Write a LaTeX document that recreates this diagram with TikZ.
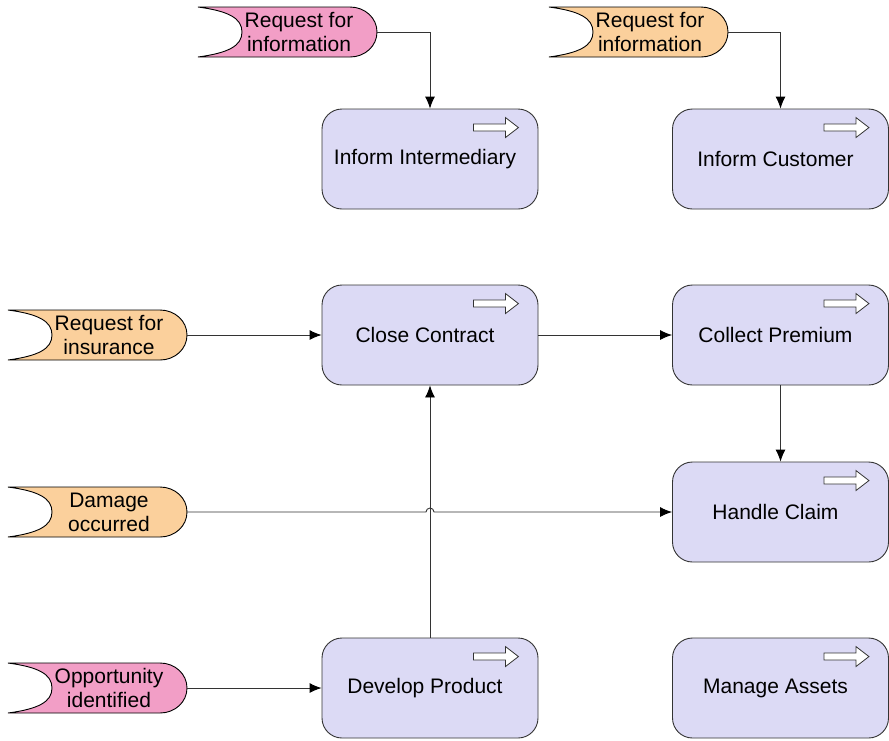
\documentclass[tikz,border=0pt]{standalone}
\usepackage{fontspec}
\setmainfont{Liberation Sans}
\usetikzlibrary{arrows.meta,calc}
\definecolor{evpink}{HTML}{F29EC6}
\definecolor{evorange}{HTML}{FBD09C}
\definecolor{boxfill}{HTML}{DCDAF5}
\definecolor{linec}{HTML}{333333}
\tikzset{
  evl/.style={draw=black, line width=0.9pt},
  evtext/.style={minimum width=179pt, minimum height=50pt, inner sep=0pt, align=center, font=\fontsize{21}{24}\selectfont, text=black},
  svcbox/.style={draw=linec, line width=0.9pt, fill=boxfill, rounded corners=20pt, minimum width=216pt, minimum height=100pt, inner sep=0pt, align=center, font=\fontsize{21}{24}\selectfont},
  icon/.style={draw=linec, line width=0.8pt, fill=white},
  conn/.style={draw=linec, line width=0.9pt, -{Latex[length=12pt,width=10pt,color=black]}},
}
% name, left, top, colour, text
\newcommand\evshape[5]{%
  \draw[evl, fill=#4] (#2,#3) -- ++(152,0)
    .. controls +(15,0) and +(0,-14) .. ++(27,25)
    .. controls +(0,14) and +(15,0) .. ++(-27,25)
    -- ++(-152,0)
    .. controls +(30,-4) and +(0,14) .. ++(44,-25)
    .. controls +(0,-14) and +(30,4) .. ++(-44,-25) -- cycle;
  \node[evtext, minimum width=0pt] at (#2+101,#3+25) {#5};
  \node[evtext] (#1) at (#2+89.5,#3+25) {};}
\newcommand\svcicon[1]{%
  \draw[icon] ($(#1.north east)+(-65,15.5)$) -- ++(32,0) -- ++(0,-6.5) -- ++(13,10) -- ++(-13,10) -- ++(0,-6.5) -- ++(-32,0) -- cycle;}
\begin{document}
\begin{tikzpicture}[x=1pt,y=-1pt]
\useasboundingbox (0,0) rectangle (889,740);
% events
\evshape{ri1}{198}{7}{evpink}{Request for\\information}
\evshape{ri2}{549}{7}{evorange}{Request for\\information}
\evshape{rins}{8}{310}{evorange}{Request for\\insurance}
\evshape{dm}{8}{487}{evorange}{Damage\\occurred}
\evshape{opp}{8}{663}{evpink}{Opportunity\\identified}
% services
\node[svcbox] (ii) at (430,159) {\hspace*{-10pt}Inform Intermediary};
\node[svcbox] (ic) at (780.5,159) {\hspace*{-10pt}Inform Customer};
\node[svcbox] (cc) at (430,335) {\hspace*{-10pt}Close Contract};
\node[svcbox] (cp) at (780.5,335) {\hspace*{-10pt}Collect Premium};
\node[svcbox] (hc) at (780.5,512) {\hspace*{-10pt}Handle Claim};
\node[svcbox] (dp) at (430,688) {\hspace*{-10pt}Develop Product};
\node[svcbox] (ma) at (780.5,688) {\hspace*{-10pt}Manage Assets};
\foreach \b in {ii,ic,cc,cp,hc,dp,ma} {\svcicon{\b}}
% connectors
\draw[conn] (ri1.east) -| (ii.north);
\draw[conn] (ri2.east) -| (ic.north);
\draw[conn] (rins.east) -- (rins.east -| cc.west);
\draw[conn] (cc.east) -- (cp.west);
\draw[conn] (cp.south) -- (hc.north);
\draw[conn] (dp.north) -- (cc.south);
\draw[conn] (opp.east) -- (opp.east -| dp.west);
\coordinate (jmp) at (dm.east -| dp.north);
\draw[conn] (dm.east) -- ($(jmp)+(-4,0)$) arc[start angle=180, end angle=0, radius=4pt] -- (dm.east -| hc.west);
\end{tikzpicture}
\end{document}
